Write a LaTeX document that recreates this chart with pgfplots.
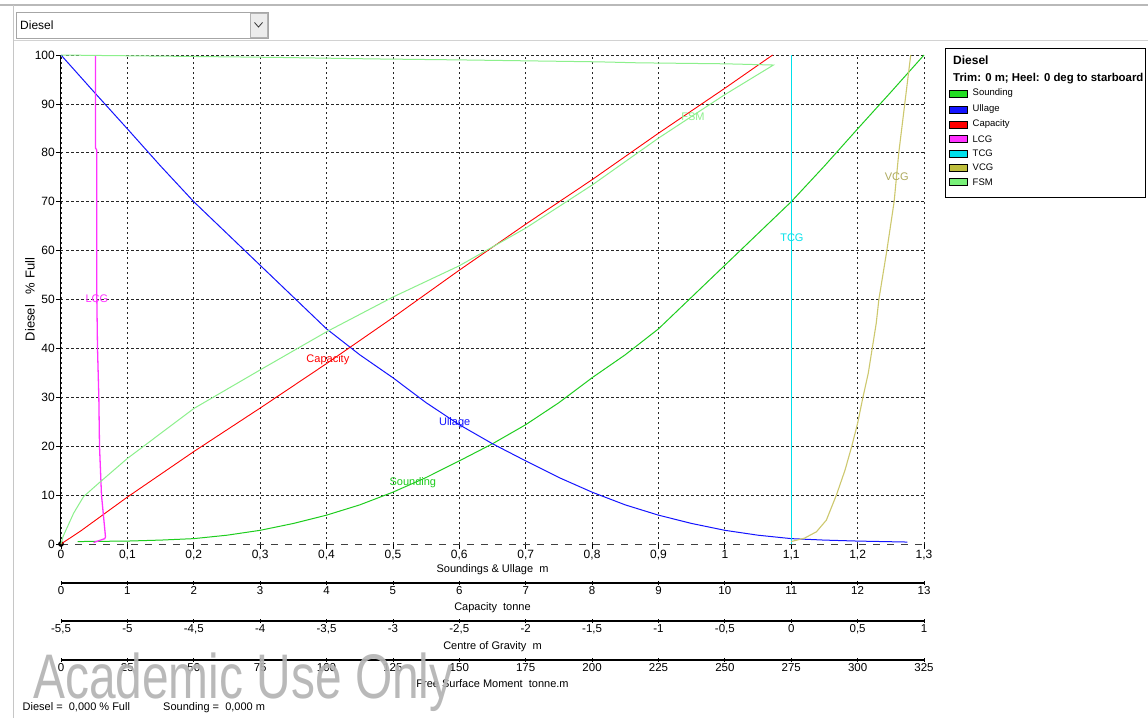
\documentclass[border=0pt]{standalone}
\usepackage{fontspec}
\setmainfont{Liberation Sans}
\usepackage{graphicx}
\usepackage{pgfplots}
\pgfplotsset{compat=1.18}

\definecolor{csound}{RGB}{30,205,30}
\definecolor{csoundsw}{RGB}{34,221,34}
\definecolor{cull}{RGB}{20,20,255}
\definecolor{ccap}{RGB}{255,0,0}
\definecolor{clcg}{RGB}{255,50,255}
\definecolor{ctcg}{RGB}{0,225,235}
\definecolor{cvcg}{RGB}{205,200,110}
\definecolor{cvcgsw}{RGB}{190,190,60}
\definecolor{cfsm}{RGB}{140,240,140}
\definecolor{cfsmsw}{RGB}{120,240,120}
\definecolor{cwm}{RGB}{180,180,180}

\pgfkeys{/pgf/number format/.cd, use comma, 1000 sep={}, assume math mode=true}

\pgfplotsset{
  base/.style={at={(61pt,-544pt)}, anchor=south west, scale only axis,
    width=863pt, height=489pt, ymin=0, ymax=100, clip=false},
  scaleaxis/.style={anchor=south west, scale only axis, width=863pt, height=1pt,
    ymin=0, ymax=1, axis y line=none, axis x line*=bottom,
    x axis line style={black, line width=1.3pt, -},
    xtick style={black, line width=0.8pt}, major tick length=4pt, tick align=center,
    tick label style={font=\fontsize{11.5}{12}\selectfont},
    label style={font=\fontsize{11}{12}\selectfont},
    xticklabel style={inner sep=1.5pt}, xlabel style={inner sep=1pt, yshift=-5pt}},
}

\begin{document}
\begin{tikzpicture}
\begin{scope}[x=1pt,y=1pt]
\useasboundingbox (0,0) rectangle (1148,-718);
\fill[white] (0,0) rectangle (1148,-718);
% window frame
\draw[gray!55, line width=2pt] (0,-5) -- (1148,-5);
\draw[gray!35, line width=1pt] (13,-40) -- (1148,-40);
\draw[gray!45, line width=1pt] (13,-5) -- (13,-718);
% dropdown
\draw[gray!70, fill=white, line width=0.8pt] (16,-12) rectangle (268,-38);
\fill[gray!15] (250,-13) rectangle (267,-37);
\draw[gray!60] (250,-13) rectangle (267,-37);
\draw[gray!40!black, line width=0.8pt] (254.5,-22.5) -- (258.5,-27) -- (262.5,-22.5);
\node[anchor=west, font=\fontsize{12}{14}\selectfont, inner sep=0] at (20,-25) {Diesel};
\end{scope}

% ---------- main axis: soundings & ullage ----------
\begin{axis}[base, xmin=0, xmax=1.3,
  xtick={0,0.1,0.2,0.3,0.4,0.5,0.6,0.7,0.8,0.9,1,1.1,1.2,1.3},
  ytick={10,20,30,40,50,60,70,80,90,100},
  extra y ticks={0}, extra tick style={grid=none},
  axis y line*=left, axis x line*=bottom,
  x axis line style={draw=black!75, dash pattern=on 7pt off 7pt, line width=1pt, -},
  y axis line style={black, line width=1pt, -},
  grid=major, grid style={black!85, dash pattern=on 2.5pt off 2.5pt, line width=0.8pt},
  xtick style={black, line width=0.8pt}, ytick style={black, line width=0.8pt},
  major tick length=5pt, tick align=outside,
  tick label style={font=\fontsize{12}{12}\selectfont},
  xticklabel style={inner sep=1pt},
  yticklabel style={inner sep=1pt},
  xlabel={Soundings \& Ullage\ \ m},
  xlabel style={font=\fontsize{11}{12}\selectfont, inner sep=0.5pt, yshift=-2.5pt},
  ylabel={Diesel\ \ \ \% Full},
  every axis y label/.style={at={(axis description cs:-0.036,0.5)}, rotate=90, anchor=center,
    font=\fontsize{13}{14}\selectfont},
]
\addplot[csound, line width=1pt] coordinates {
 (0.025,0.5) (0.1,0.6) (0.15,0.8) (0.2,1.1) (0.25,1.8) (0.3,2.8) (0.35,4.2)
 (0.4,5.9) (0.45,8.0) (0.5,10.6) (0.55,13.6) (0.6,17.0) (0.65,20.5) (0.7,24.4)
 (0.75,28.9) (0.8,34.0) (0.85,38.7) (0.9,44.0) (0.95,50.5) (1.0,57.0)
 (1.05,63.5) (1.1,70.0) (1.15,77.3) (1.2,84.9) (1.25,92.4) (1.3,100)};
\addplot[cull, line width=1pt] coordinates {
 (0,100) (0.05,92.4) (0.1,84.9) (0.15,77.3) (0.2,70.0) (0.25,63.5) (0.3,57.0)
 (0.35,50.5) (0.4,44.0) (0.45,38.7) (0.5,34.0) (0.55,28.9) (0.6,24.4) (0.65,20.5)
 (0.7,17.0) (0.75,13.6) (0.8,10.6) (0.85,8.0) (0.9,5.9) (0.95,4.2) (1.0,2.8)
 (1.05,1.8) (1.1,1.1) (1.15,0.8) (1.2,0.6) (1.275,0.4)};
\addplot[only marks, mark=*, mark size=2.6pt, black] coordinates {(0,0)};
\node[text=csound, font=\fontsize{11}{12}\selectfont, inner sep=0] at (axis cs:0.530,12.5) {Sounding};
\node[text=cull, font=\fontsize{11}{12}\selectfont, inner sep=0] at (axis cs:0.593,24.9) {Ullage};
\end{axis}

% ---------- capacity overlay ----------
\begin{axis}[base, hide axis, xmin=0, xmax=13]
\addplot[ccap, line width=0.9pt] coordinates {
 (0,0) (0.3,2.7) (1,9.6) (2,18.9) (3,27.8) (4,36.9) (5,46.3) (6,56.0)
 (7,65.4) (8,74.5) (9,84.0) (10,93.2) (10.72,100)};
\node[text=ccap, font=\fontsize{11}{12}\selectfont, inner sep=0] at (axis cs:4.02,37.6) {Capacity};
\end{axis}

% ---------- centre of gravity overlay ----------
\begin{axis}[base, hide axis, xmin=-5.5, xmax=1]
\addplot[clcg, line width=1.3pt] coordinates {
 (-5.255,0.3) (-5.17,1.1) (-5.165,1.5) (-5.195,10) (-5.21,20) (-5.215,30)
 (-5.225,40) (-5.23,50) (-5.23,80.5) (-5.24,81) (-5.24,100)};
\addplot[ctcg, line width=1pt] coordinates {(0,0) (0,100)};
\addplot[cvcg, line width=1.1pt] coordinates {
 (0,0.5) (0.1,1.2) (0.19,2.5) (0.265,4.9) (0.34,10) (0.405,15.1) (0.455,19.9)
 (0.5,24.7) (0.54,30) (0.58,34.9) (0.61,40) (0.64,45.1) (0.66,50) (0.72,60)
 (0.775,70) (0.81,80) (0.855,90) (0.9,100)};
\node[text=clcg, font=\fontsize{11}{12}\selectfont, inner sep=0] at (axis cs:-5.23,50.1) {LCG};
\node[text=ctcg, font=\fontsize{11}{12}\selectfont, inner sep=0] at (axis cs:0.005,62.6) {TCG};
\node[text=cvcg!85!black, font=\fontsize{11}{12}\selectfont, inner sep=0] at (axis cs:0.795,75.1) {VCG};
\end{axis}

% ---------- free surface moment overlay ----------
\begin{axis}[base, hide axis, xmin=0, xmax=325]
\addplot[cfsm, line width=1pt] coordinates {
 (0,0) (0.75,1.5) (4.75,6.3) (8.5,9.7) (14.75,12.7) (25,17.5) (50,27.7) (75,35.6)
 (100,43.4) (125,50.5) (150,56.9) (175,64.6) (200,73.4) (225,83.0) (250,91.9)
 (268.3,97.95) (250,98.2) (217.5,98.4) (202.5,98.6) (150,99.0) (117.5,99.2)
 (82.5,99.5) (50,99.7) (15,99.9) (0,100)};
\node[text=cfsm, font=\fontsize{11}{12}\selectfont, inner sep=0] at (axis cs:238,87.3) {FSM};
\end{axis}

% ---------- extra scales below ----------
\begin{axis}[scaleaxis, at={(61pt,-583pt)}, xmin=0, xmax=13, xtick={0,1,...,13},
  xlabel={Capacity\ \ tonne}]
\end{axis}
\begin{axis}[scaleaxis, at={(61pt,-621pt)}, xmin=-5.5, xmax=1,
  xtick={-5.5,-5,-4.5,-4,-3.5,-3,-2.5,-2,-1.5,-1,-0.5,0,0.5,1},
  xlabel={Centre of Gravity\ \ m}]
\end{axis}
\begin{axis}[scaleaxis, at={(61pt,-660pt)}, xmin=0, xmax=325,
  xtick={0,25,50,75,100,125,150,175,200,225,250,275,300,325},
  xlabel={Free Surface Moment\ \ tonne.m}]
\end{axis}

\begin{scope}[x=1pt,y=1pt]
% ---------- legend ----------
\draw[black, line width=1pt] (945,-48) rectangle (1145,-197);
\node[anchor=west, inner sep=0, font=\fontsize{12}{13}\bfseries] at (953,-60.5) {Diesel};
\node[anchor=west, inner sep=0, font=\fontsize{11.4}{13}\bfseries] at (953,-79) {Trim: 0 m; Heel: 0 deg to starboard};
\foreach \yy/\cc/\tt in {93.5/csoundsw/Sounding, 109.3/cull/Ullage, 124.5/ccap/Capacity,
  139/clcg/LCG, 153.3/ctcg/TCG, 167.7/cvcgsw/VCG, 182/cfsmsw/FSM}{
  \draw[fill=\cc, draw=black, line width=0.6pt] (949,-\yy+3.5) rectangle (967,-\yy-3.5);
  \node[anchor=west, inner sep=0, font=\fontsize{9.5}{10}\selectfont] at (972.5,-\yy) {\tt};
}

% ---------- status line ----------
\node[anchor=west, inner sep=0, font=\fontsize{11}{12}\selectfont] at (22.5,-707.5) {Diesel =\ \ 0,000 \% Full};
\node[anchor=west, inner sep=0, font=\fontsize{11}{12}\selectfont] at (163,-707.5) {Sounding =\ \ 0,000 m};

% ---------- watermark ----------
\node[anchor=base west, inner sep=0, text=cwm, opacity=0.92] at (33,-698)
  {\scalebox{0.76}[1]{\fontsize{63}{63}\selectfont Academic Use Only}};
\end{scope}
\end{tikzpicture}
\end{document}
